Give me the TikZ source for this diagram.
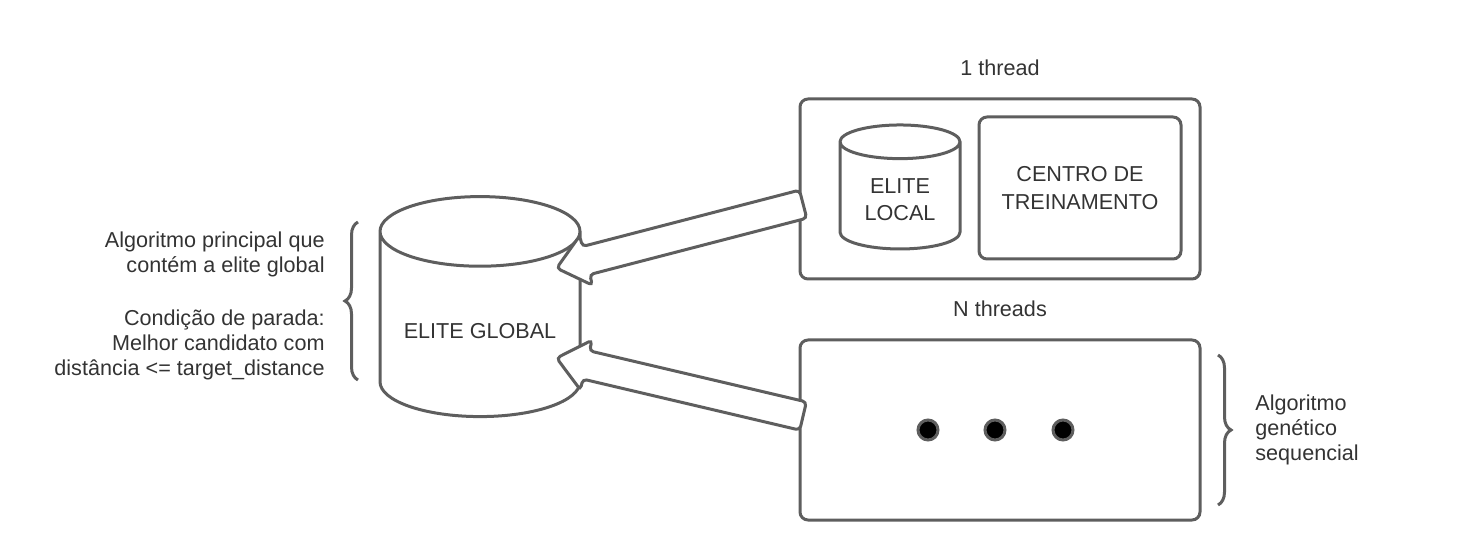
\documentclass[tikz,border=0pt]{standalone}
\usepackage{fontspec}
\setmainfont{Liberation Sans}
\usetikzlibrary{positioning,calc,shapes.geometric,shapes.arrows,decorations.pathreplacing}
\definecolor{linegray}{HTML}{5E5E5E}
\definecolor{textgray}{HTML}{333333}
\tikzset{
  db/.style={cylinder, shape border rotate=90, aspect=0.42, draw=linegray, line width=1.5pt, fill=white, text=textgray},
  box/.style={rectangle, rounded corners=4pt, draw=linegray, line width=1.5pt, text=textgray, align=center},
  fatarrow/.style={single arrow, draw=linegray, fill=white, line width=1.5pt, rounded corners=2pt, inner xsep=0pt, inner ysep=6.5pt, minimum width=0pt, single arrow tip angle=80, single arrow head extend=5.5pt},
  dot/.style={circle, draw=linegray, fill=black, line width=1.5pt, minimum size=10pt, inner sep=0pt},
  note/.style={text=textgray, inner sep=0pt},
  brace/.style={draw=linegray, line width=1.5pt, decorate, decoration={brace, amplitude=6.5pt}}
}
\begin{document}
\begin{tikzpicture}[x=0.5pt, y=-0.5pt, font=\fontsize{10.8pt}{12.5pt}\selectfont]
	\useasboundingbox (0,0) rectangle (1460,560);
	\node[db, minimum width=100pt, minimum height=110pt] (global) at (480,331) {ELITE GLOBAL};
	\node[box, minimum width=200pt, minimum height=90pt] (thread1) at (1000,189) {};
	\node[db, minimum width=60pt, minimum height=62pt, aspect=0.4, align=center, font=\fontsize{10.8pt}{13.5pt}\selectfont] (local) at (900,200) {ELITE\\LOCAL};
	\node[box, minimum width=101pt, minimum height=71pt, font=\fontsize{10.8pt}{14pt}\selectfont] (centro) at (1080,188) {CENTRO DE\\TREINAMENTO};
	\node[box, minimum width=200pt, minimum height=90pt] (threadN) at (1000,430) {};
	\node[note, above=10.5pt of thread1] (lbl1) {1 thread};
	\node[note, above=10.5pt of threadN] (lblN) {N threads};
	\foreach \n/\x in {1/928, 2/995, 3/1063}
		\node[dot] (dot\n) at (\x,430) {};
	%
	\node[note, align=right, anchor=east] (mainNote) at (325,306) {Algoritmo principal que\\contém a elite global\\[14pt]Condição de parada:\\Melhor candidato com\\distância <= target\_distance};
	\node[note, align=left, anchor=west] (seqNote) at (1255,430) {Algoritmo\\genético\\sequencial};
	\coordinate (braceLtop) at (358,222);
	\coordinate (braceLbot) at (358,380);
	\coordinate (braceRtop) at (1218,355);
	\coordinate (braceRbot) at (1218,505);
	\draw[brace] (braceLbot) -- (braceLtop);
	\draw[brace] (braceRtop) -- (braceRbot);
	%
	\coordinate (tailA) at ($(thread1.west)+(13,13)$);
	\coordinate (tipA) at ($(global.center)+(85,-65)$);
	\coordinate (tailB) at ($(threadN.west)+(13,-12)$);
	\coordinate (tipB) at ($(global.center)+(85,29)$);
	\path let \p1=($(tipA)-(tailA)$), \n1={atan2(\y1,\x1)}, \n2={veclen(\x1,\y1)} in
		node[fatarrow, rotate=\n1, minimum height=\n2] (arrowA) at ($(tailA)!0.5!(tipA)$) {};
	\path let \p1=($(tipB)-(tailB)$), \n1={atan2(\y1,\x1)}, \n2={veclen(\x1,\y1)} in
		node[fatarrow, rotate=\n1, minimum height=\n2] (arrowB) at ($(tailB)!0.5!(tipB)$) {};
\end{tikzpicture}
\end{document}
